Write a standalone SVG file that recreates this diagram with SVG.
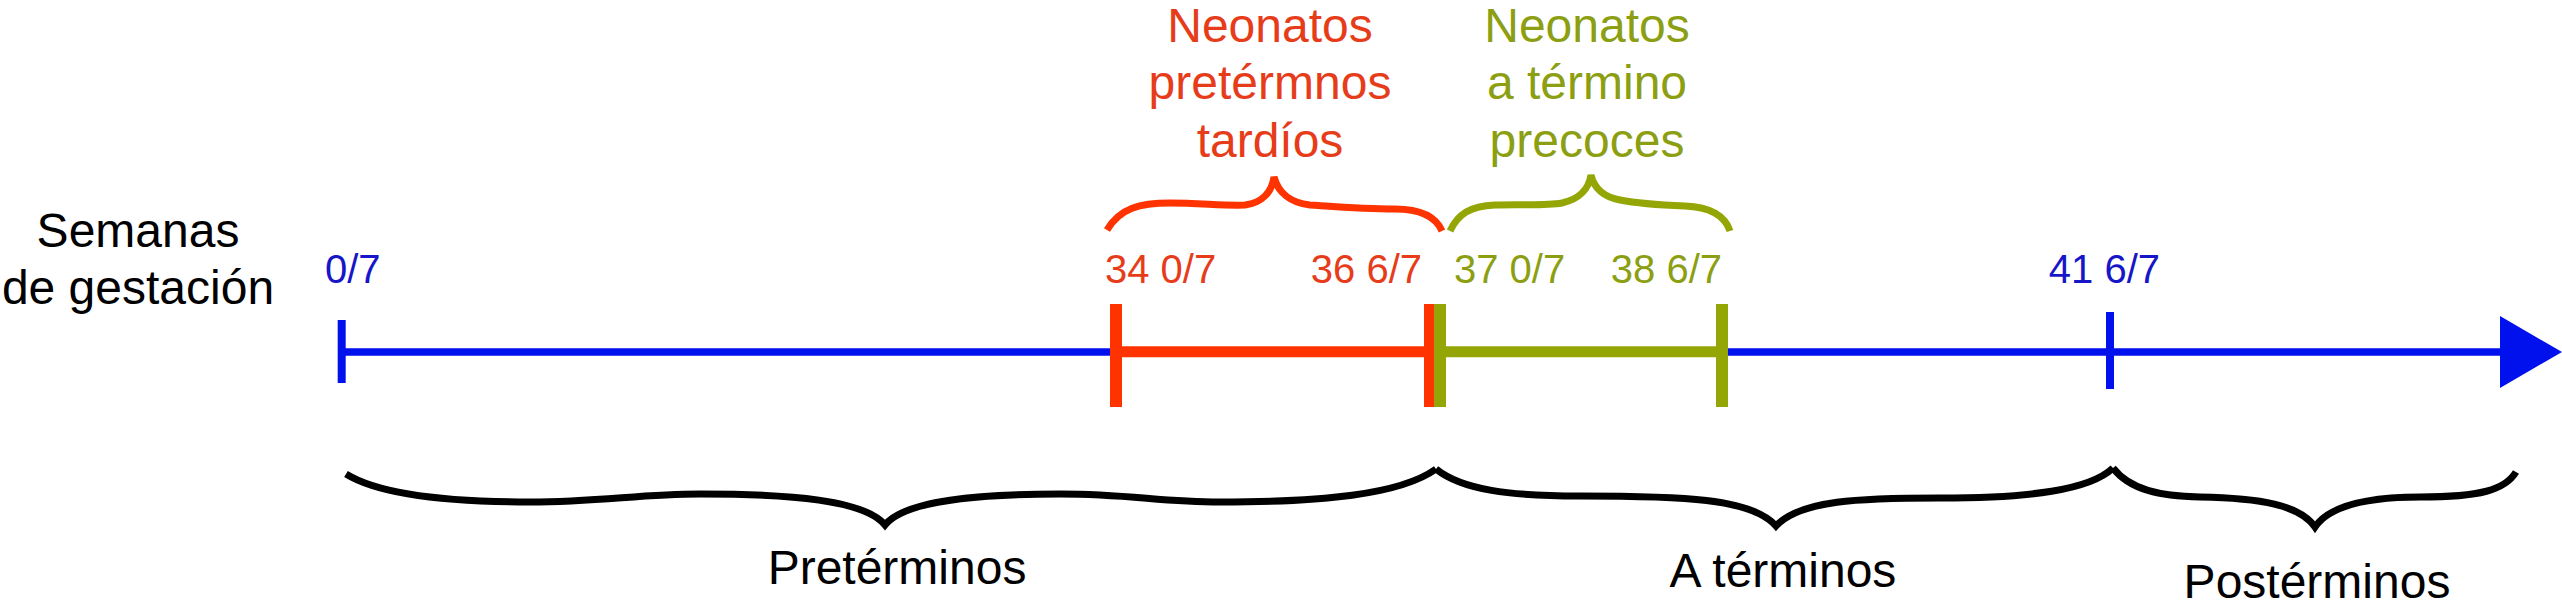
<svg xmlns="http://www.w3.org/2000/svg" width="2562" height="611" viewBox="0 0 2562 611">
<style>
text{font-family:"Liberation Sans",Arial,sans-serif}
.big{font-size:48px}
.sm{font-size:40px}
.blk{fill:#000}
.tb{fill:#1616c8}
.tr{fill:#e63c1a}
.tg{fill:#8c9f12}
.brace{fill:none;stroke-width:7;stroke-linecap:butt;stroke-linejoin:miter}
</style>
<rect width="2562" height="611" fill="#fff"/>
<g id="axis-label">
<text class="big blk" x="138" y="247" text-anchor="middle">Semanas</text>
<text class="big blk" x="138" y="304" text-anchor="middle">de gestación</text>
</g>
<g id="connectors">
<line x1="342" y1="352" x2="2505" y2="352" stroke="#0011ee" stroke-width="7.5"/>
<polygon points="2500,316 2562,352 2500,388" fill="#0011ee"/>
<line x1="341.7" y1="320" x2="341.7" y2="383" stroke="#0011ee" stroke-width="8"/>
<line x1="2110" y1="312" x2="2110" y2="389" stroke="#0011ee" stroke-width="8"/>
<line x1="1116" y1="351.7" x2="1429" y2="351.7" stroke="#ff3300" stroke-width="11"/>
<line x1="1440" y1="351.7" x2="1722" y2="351.7" stroke="#94a606" stroke-width="11"/>
<line x1="1116" y1="304" x2="1116" y2="407" stroke="#ff3300" stroke-width="12"/>
<line x1="1429" y1="304" x2="1429" y2="407" stroke="#ff3300" stroke-width="10"/>
<line x1="1440" y1="304" x2="1440" y2="407" stroke="#94a606" stroke-width="12"/>
<line x1="1722" y1="304" x2="1722" y2="407" stroke="#94a606" stroke-width="12"/>
<path class="brace" stroke="#ff3300" d="M1107,230 C1120,208 1140,203 1170,203 C1200,203 1225,206 1245,205 C1262,203 1272,192 1274,177 C1278,192 1290,203 1310,205 C1340,207 1365,209 1395,209 C1420,209 1436,217 1442,231"/>
<path class="brace" stroke="#94a606" d="M1450,231 C1458,214 1470,206 1495,205 C1520,204 1545,206 1562,203 C1580,199 1589,188 1591,175 C1594,188 1604,197 1620,200 C1640,204 1660,205 1685,206 C1710,207 1725,216 1730,231"/>
<path class="brace" stroke="#000" d="M346,474 C380,495 450,502 530,502 C600,502 640,494 700,494 C790,494 865,500 885,525 C905,500 980,494 1060,494 C1130,494 1160,502 1220,502 C1320,502 1400,495 1436,469"/>
<path class="brace" stroke="#000" d="M1436,469 C1462,490 1510,496 1580,496 C1680,496 1752,498 1776,526 C1800,500 1860,498 1940,498 C2030,498 2090,490 2113,468"/>
<path class="brace" stroke="#000" d="M2113,468 C2130,490 2160,496 2200,497 C2260,498 2300,505 2315,527 C2330,505 2370,497 2420,497 C2480,497 2505,490 2516,472"/>
</g>
<g id="tick-labels">
<text class="sm tb" x="325" y="283">0/7</text>
<text class="sm tr" x="1105" y="283">34 0/7</text>
<text class="sm tr" x="1422" y="283" text-anchor="end">36 6/7</text>
<text class="sm tg" x="1454" y="283">37 0/7</text>
<text class="sm tg" x="1722" y="283" text-anchor="end">38 6/7</text>
<text class="sm tb" x="2160" y="283" text-anchor="end">41 6/7</text>
</g>
<g id="late-preterm">
<text class="big tr" x="1270" y="42" text-anchor="middle">Neonatos</text>
<text class="big tr" x="1270" y="99" text-anchor="middle">pretérmnos</text>
<text class="big tr" x="1270" y="157" text-anchor="middle">tardíos</text>
</g>
<g id="early-term">
<text class="big tg" x="1587" y="42" text-anchor="middle">Neonatos</text>
<text class="big tg" x="1587" y="99" text-anchor="middle">a término</text>
<text class="big tg" x="1587" y="157" text-anchor="middle">precoces</text>
</g>
<g id="preterm"><text class="big blk" x="897" y="584" text-anchor="middle">Pretérminos</text></g>
<g id="term"><text class="big blk" x="1783" y="587" text-anchor="middle">A términos</text></g>
<g id="postterm"><text class="big blk" x="2317" y="598" text-anchor="middle">Postérminos</text></g>
</svg>
